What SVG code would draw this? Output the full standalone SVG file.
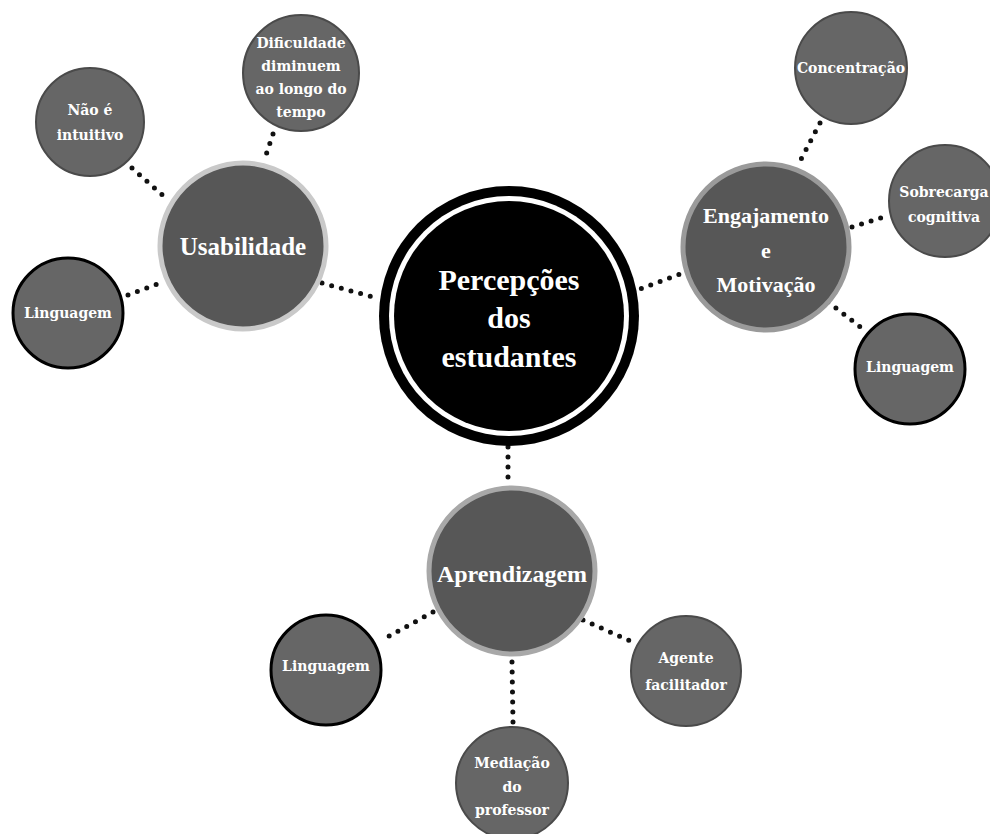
<svg xmlns="http://www.w3.org/2000/svg" width="990" height="834" viewBox="0 0 990 834">
<style>
.bg{fill:#fff}
.conn{stroke:#111;stroke-width:5;stroke-linecap:round;stroke-dasharray:0 10;fill:none}
.sub{fill:#666;stroke:#4a4a4a;stroke-width:2}
.subk{fill:#666;stroke:#000;stroke-width:3}
.main{fill:#575757;stroke-width:5}
.t{font-family:"DejaVu Serif","Liberation Serif",serif;font-weight:bold;font-size:14px;fill:#fff;text-anchor:middle}
.tm{font-family:"Liberation Serif","Times New Roman",serif;font-weight:bold;fill:#fff;text-anchor:middle}
</style>
<rect class="bg" width="990" height="834"/>
<g id="connectors">
<line class="conn" x1="322" y1="283" x2="377" y2="298"/>
<line class="conn" x1="132" y1="168" x2="168" y2="200"/>
<line class="conn" x1="273" y1="134" x2="265" y2="158"/>
<line class="conn" x1="128" y1="295" x2="163" y2="282"/>
<line class="conn" x1="632" y1="292" x2="683" y2="273"/>
<line class="conn" x1="820" y1="123" x2="798" y2="165"/>
<line class="conn" x1="852" y1="227" x2="887" y2="216"/>
<line class="conn" x1="828" y1="302" x2="867" y2="332"/>
<line class="conn" x1="508" y1="447" x2="508" y2="485"/>
<line class="conn" x1="433" y1="612" x2="382" y2="640"/>
<line class="conn" x1="512" y1="662" x2="513" y2="722"/>
<line class="conn" x1="583" y1="620" x2="635" y2="643"/>
</g>
<g id="center">
<circle cx="509" cy="316" r="130" fill="#000"/>
<circle cx="509" cy="316" r="120" fill="#fff"/>
<circle cx="509" cy="316" r="115" fill="#000"/>
<text class="tm" x="509" y="290" font-size="30">Percepções</text>
<text class="tm" x="509" y="328" font-size="30">dos</text>
<text class="tm" x="509" y="367" font-size="30">estudantes</text>
</g>
<g id="usabilidade">
<circle class="main" cx="243" cy="246" r="83" stroke="#c9c9c9"/>
<text class="tm" x="243" y="255" font-size="25">Usabilidade</text>
</g>
<g id="nao-intuitivo">
<circle class="sub" cx="90" cy="122" r="54"/>
<text class="t" x="90" y="115">Não é</text>
<text class="t" x="90" y="140">intuitivo</text>
</g>
<g id="dificuldade">
<circle class="sub" cx="301" cy="73" r="58"/>
<text class="t" x="301" y="48">Dificuldade</text>
<text class="t" x="301" y="71">diminuem</text>
<text class="t" x="301" y="94">ao longo do</text>
<text class="t" x="301" y="117">tempo</text>
</g>
<g id="linguagem-1">
<circle class="subk" cx="68" cy="313" r="55"/>
<text class="t" x="68" y="318">Linguagem</text>
</g>
<g id="engajamento">
<circle class="main" cx="766" cy="247" r="83" stroke="#9a9a9a"/>
<text class="tm" x="766" y="223" font-size="22">Engajamento</text>
<text class="tm" x="766" y="258" font-size="22">e</text>
<text class="tm" x="766" y="292" font-size="22">Motivação</text>
</g>
<g id="concentracao">
<circle class="sub" cx="851" cy="68" r="56"/>
<text class="t" x="851" y="73">Concentração</text>
</g>
<g id="sobrecarga">
<circle class="sub" cx="945" cy="201" r="56"/>
<text class="t" x="944" y="197">Sobrecarga</text>
<text class="t" x="944" y="222">cognitiva</text>
</g>
<g id="linguagem-2">
<circle class="subk" cx="910" cy="369" r="55"/>
<text class="t" x="910" y="372">Linguagem</text>
</g>
<g id="aprendizagem">
<circle class="main" cx="512" cy="571" r="83" stroke="#a8a8a8"/>
<text class="tm" x="512" y="582" font-size="24">Aprendizagem</text>
</g>
<g id="linguagem-3">
<circle class="subk" cx="326" cy="670" r="55"/>
<text class="t" x="326" y="671">Linguagem</text>
</g>
<g id="agente">
<circle class="sub" cx="686" cy="671" r="55"/>
<text class="t" x="686" y="663">Agente</text>
<text class="t" x="686" y="690">facilitador</text>
</g>
<g id="mediacao">
<circle class="sub" cx="512" cy="783" r="56"/>
<text class="t" x="512" y="768">Mediação</text>
<text class="t" x="512" y="792">do</text>
<text class="t" x="512" y="815">professor</text>
</g>
</svg>
